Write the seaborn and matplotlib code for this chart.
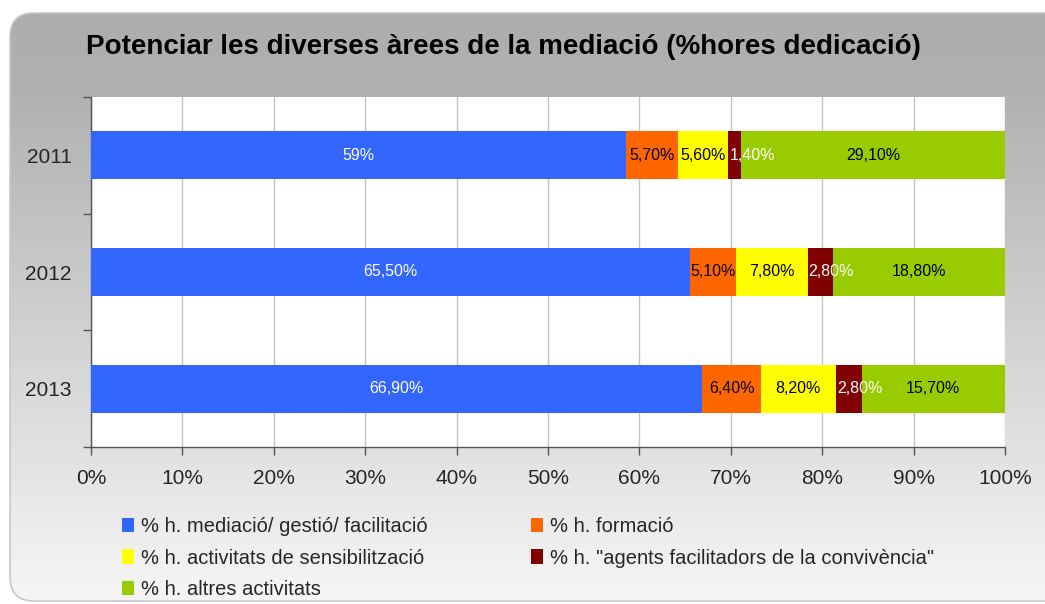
import numpy as np
import pandas as pd
import matplotlib
matplotlib.use("Agg")
import matplotlib.pyplot as plt
import seaborn as sns
from matplotlib.patches import FancyBboxPatch, Patch
from matplotlib.colors import LinearSegmentedColormap
from matplotlib.ticker import FixedLocator

# data
years = ["2011", "2012", "2013"]
series = [
    "% h. mediació/ gestió/ facilitació",
    "% h. formació",
    "% h. activitats de sensibilització",
    '% h. "agents facilitadors de la convivència"',
    "% h. altres activitats",
]
mediacio = [59.0, 65.5, 66.9]
formacio = [5.7, 5.1, 6.4]
sensibilitzacio = [5.6, 7.8, 8.2]
agents = [1.4, 2.8, 2.8]
altres = [29.1, 18.8, 15.7]
colors = ["#3366FF", "#FF6600", "#FFFF00", "#800000", "#99CC00"]
text_colors = ["white", "black", "black", "white", "black"]

sns.set_style("white")
plt.rcParams["font.family"] = ["Liberation Sans", "DejaVu Sans"]

df = pd.DataFrame(
    {s: v for s, v in zip(series, [mediacio, formacio, sensibilitzacio, agents, altres])},
    index=years,
)
# 100% stacked: normalise each year
pct = df.div(df.sum(axis=1), axis=0) * 100
cum = pct.cumsum(axis=1)

fig = plt.figure(figsize=(10.45, 6.04), dpi=100)

# background panel with gradient
bg = fig.add_axes([0, 0, 1, 1], zorder=-10)
bg.set_xlim(0, 1045)
bg.set_ylim(604, 0)
bg.axis("off")
cmap = LinearSegmentedColormap.from_list(
    "bg", [(0, "#adadad"), (0.14, "#b1b1b1"), (1, "#f6f6f6")])
grad = np.linspace(0, 1, 256).reshape(-1, 1)
im = bg.imshow(grad, cmap=cmap, extent=(10, 1060, 601, 13), aspect="auto",
               origin="upper", zorder=0)
panel = FancyBboxPatch((10, 13), 1080, 588,
                       boxstyle="round,pad=0,rounding_size=24",
                       facecolor="none", edgecolor="#c8c8c8", lw=1.2, zorder=1)
bg.add_patch(panel)
im.set_clip_path(panel)

ax = fig.add_axes([91 / 1045, 1 - 447 / 604, (1005 - 91) / 1045, (447 - 97) / 604])
ax.set_facecolor("white")

# draw from the full stack down so each segment shows on top of the next
for i in range(len(series) - 1, -1, -1):
    sns.barplot(x=cum.iloc[:, i].values, y=years, orient="h", color=colors[i],
                saturation=1, width=0.41, linewidth=0, ax=ax, zorder=3)

for i, s in enumerate(series):
    for j, y in enumerate(years):
        v = df.loc[y, s]
        lab = (f"{v:.0f}%" if v == int(v) else f"{v:.2f}%").replace(".", ",")
        if i == 3:
            # narrow segment: label starts at the segment's left edge
            ax.text(cum.iloc[j, i] - pct.iloc[j, i] + 0.1, j, lab, ha="left", va="center",
                    fontsize=11.5, color=text_colors[i], zorder=5)
        else:
            centre = cum.iloc[j, i] - pct.iloc[j, i] / 2
            ax.text(centre, j, lab, ha="center", va="center", fontsize=11.5,
                    color=text_colors[i], zorder=5)

ax.set_xlim(0, 100)
ax.set_ylim(2.5, -0.5)
ax.set_xticks(range(0, 101, 10))
ax.set_xticklabels([f"{t}%" for t in range(0, 101, 10)], fontsize=15)
ax.set_yticks(range(len(years)))
ax.set_yticklabels(years, fontsize=15)
ax.yaxis.set_minor_locator(FixedLocator([-0.5, 0.5, 1.5, 2.5]))
ax.tick_params(axis="y", which="major", length=0, pad=14)
ax.tick_params(axis="y", which="minor", length=6, width=1, color="#555555", direction="out", left=True)
ax.tick_params(axis="x", which="major", length=6, width=1, color="#555555", direction="out",
               bottom=True, pad=10)
ax.set_xlabel("")
ax.set_ylabel("")
ax.set_axisbelow(True)
ax.xaxis.grid(True, color="#c4c4c4", lw=1)
ax.yaxis.grid(False)
for side in ["top", "right"]:
    ax.spines[side].set_visible(False)
for side in ["left", "bottom"]:
    ax.spines[side].set_color("#555555")
    ax.spines[side].set_linewidth(1)

fig.text(0.4813, 1 - 47 / 604, "Potenciar les diverses àrees de la mediació (%hores dedicació)",
         ha="center", va="center", fontsize=20, fontweight="bold", color="black")

handles = [Patch(facecolor=c, edgecolor="none") for c in colors]
order = [0, 2, 4, 1, 3]
fig.legend([handles[k] for k in order], [series[k] for k in order],
           ncol=2, loc="upper left", bbox_to_anchor=(112 / 1045, 1 - 507 / 604),
           frameon=False, fontsize=14.5, handlelength=0.6, handleheight=0.75,
           handletextpad=0.35, labelspacing=0.62, columnspacing=5.1, borderpad=0)

fig.savefig("out.png", dpi=100)
